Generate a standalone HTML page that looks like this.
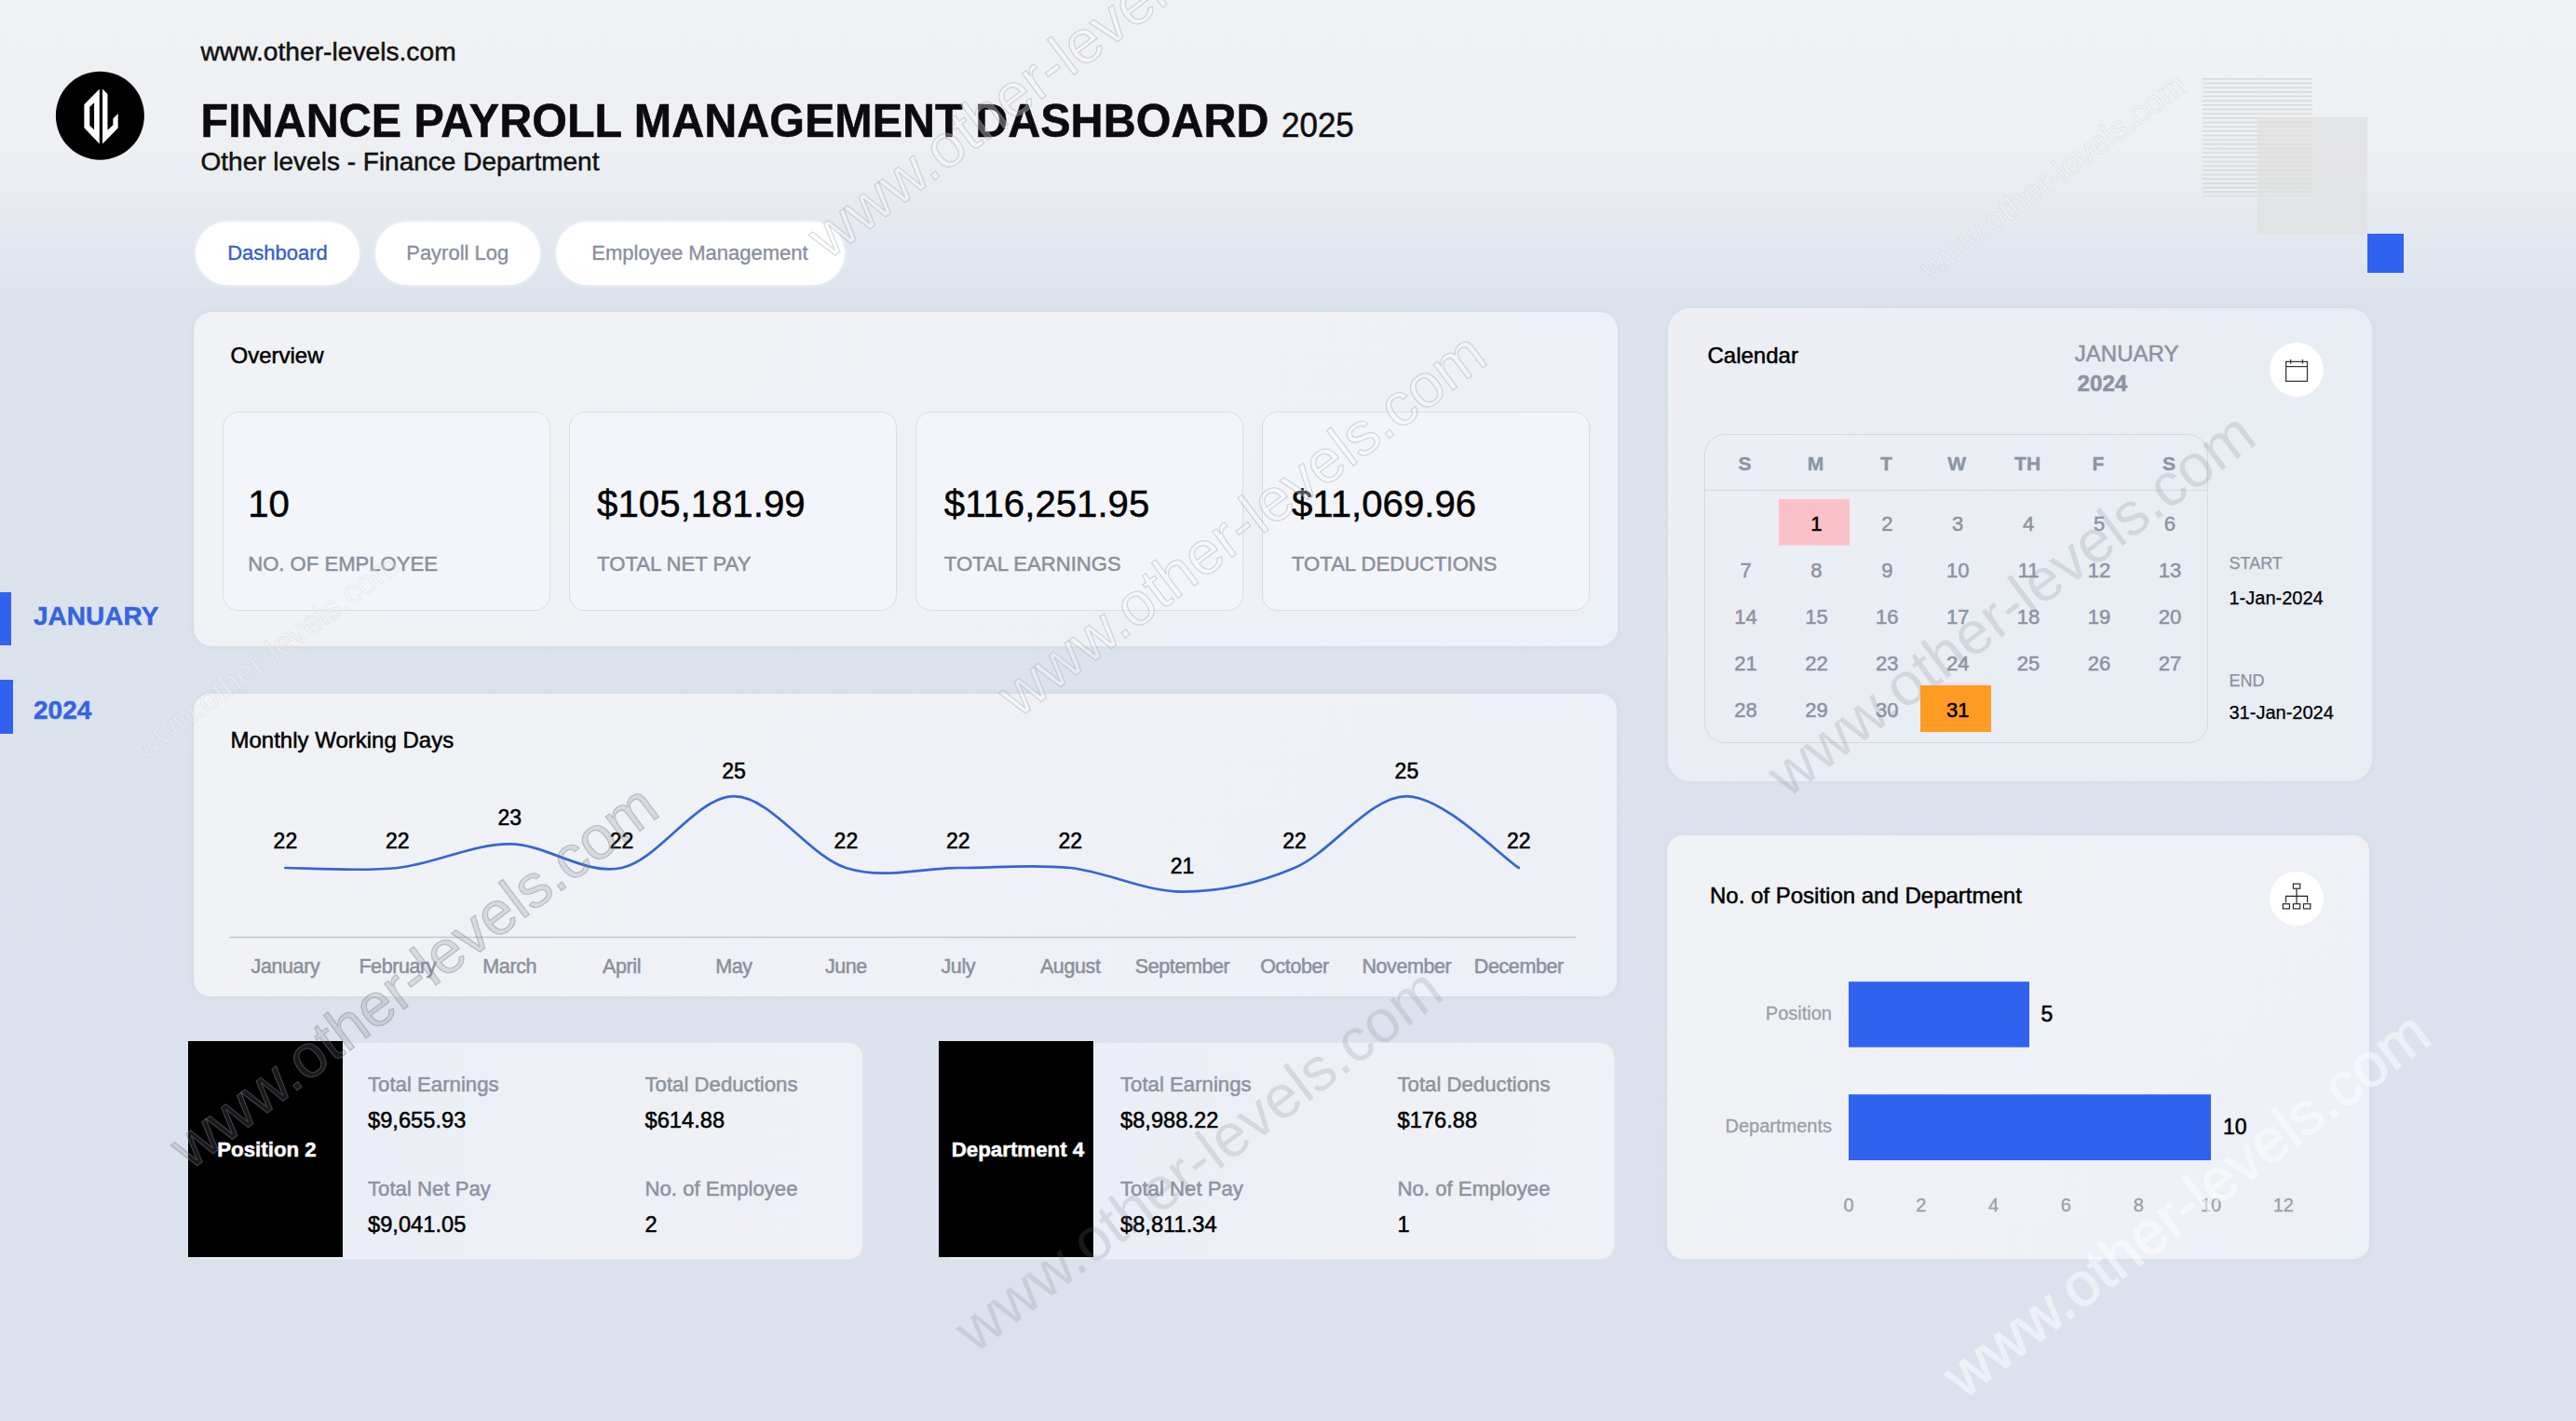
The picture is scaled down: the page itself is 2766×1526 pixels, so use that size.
<!DOCTYPE html>
<html lang="en"><head><meta charset="utf-8"><title>Finance Payroll Management Dashboard</title>
<style>
*{margin:0;padding:0;box-sizing:border-box}
html,body{width:2766px;height:1526px;overflow:hidden}
body{position:relative;-webkit-text-stroke:0.5px;font-family:"Liberation Sans",Arial,sans-serif;color:#000;
 background:linear-gradient(180deg,#f0f1f3 0px,#eef0f3 150px,#e5e9f0 240px,#dce3ed 322px,#dce2ed 1526px);}
.abs{position:absolute}
.t{position:absolute;white-space:nowrap;line-height:1}
.panel{position:absolute;background:linear-gradient(135deg,#f1f2f6 0%,#eff1f6 55%,#ecf0f7 100%);box-shadow:0 0 6px rgba(160,170,190,.18)}
.kpi{position:absolute;top:442px;width:352px;height:214px;border-radius:17px;background:#f4f5fb;border:1.3px solid #d9dce4}
.kpi .v{position:absolute;left:27px;top:78.7px;font-size:40.2px;line-height:1;white-space:nowrap}
.kpi .l{position:absolute;left:27px;top:151.9px;font-size:22.1px;line-height:1;color:#8b909d;white-space:nowrap}
.pill{position:absolute;top:238px;height:68px;border-radius:34px;background:#fff;font-size:22px;line-height:68px;text-align:center;color:#8a8f9c;-webkit-text-stroke:0.35px;box-shadow:0 0 5px rgba(255,255,255,.6)}
.g{color:#8d93a0}
svg text{font-family:"Liberation Sans",Arial,sans-serif}
.dl{font-size:23px;text-anchor:middle;fill:#000;stroke:#000;stroke-width:.55}
.ml{font-size:21.5px;text-anchor:middle;fill:#8b909d;letter-spacing:-0.4px;stroke:#8b909d;stroke-width:.5}
.wd{font-size:21px;font-weight:bold;text-anchor:middle;fill:#8d95a3;stroke:#8d95a3;stroke-width:.4}
.cd{font-size:22px;text-anchor:middle;fill:#8d93a0;stroke:#8d93a0;stroke-width:.5}
.cd.hi{fill:#000;stroke:#000}
.wm{font-size:65.3px}
.wa{fill:rgba(255,255,255,.3);stroke:rgba(160,165,175,.42);stroke-width:1.2}
.wb{fill:rgba(120,125,135,.2);stroke:rgba(125,130,140,.45);stroke-width:1.1}
.wc{fill:rgba(120,125,135,.2)}
.wx{fill:#fff;stroke:#fff;stroke-width:1.2;opacity:.5}
.ws{font-size:35.5px;fill:rgba(255,255,255,.28);stroke:rgba(195,200,210,.32);stroke-width:1}
.card{position:absolute;top:1118.5px;height:234px;border-radius:0 16px 16px 0;background:linear-gradient(90deg,#e9edf6 0%,#eef0f6 60%,#f0f1f6 100%);border:1.3px solid #e3e6ee}
.blk{position:absolute;top:1118px;width:166px;height:232px;background:#000;color:#fff;font-weight:bold;font-size:22.3px;text-align:center;line-height:1;white-space:nowrap}
.blk span{position:absolute;left:4px;right:0;top:106.1px}
.cl{position:absolute;font-size:22.2px;line-height:1;color:#8d93a0;white-space:nowrap}
.cv{position:absolute;font-size:23.7px;line-height:1;color:#000;white-space:nowrap}

.s2{-webkit-text-stroke:0.25px}
.kpi .v{-webkit-text-stroke:0.45px}

</style></head><body>
<!-- header -->
<svg class="abs" style="left:55px;top:72px" width="105" height="105" viewBox="55 72 105 105">
<circle cx="107.4" cy="124.2" r="47.5" fill="#000"/>
<path fill="#fff" fill-rule="evenodd" d="M106.8,95.4 L106.8,154.4 L90.4,137.2 L90.4,112.3 Z M101.1,110.2 L96.3,114.8 L96.3,134.7 L101.1,139.3 Z"/>
<path fill="#fff" d="M110.1,95.6 L115.5,100.9 L115.5,139.8 L121.4,134.3 L121.4,127.5 L126.7,122 L126.7,137.5 L110.1,154.4 Z"/>
</svg>
<div class="t" style="left:215.5px;top:40.9px;font-size:28.2px;color:#111">www.other-levels.com</div>
<div class="t" style="left:215.5px;top:106.2px;font-size:48.5px;font-weight:bold;color:#0c0c0e;transform:scaleY(1.03);transform-origin:0 84.65%">FINANCE PAYROLL MANAGEMENT DASHBOARD <span style="font-size:35px;font-weight:normal;margin-left:0px">2025</span></div>
<div class="t" style="left:215.5px;top:160.3px;font-size:28px;color:#111">Other levels - Finance Department</div>

<!-- deco top right -->
<svg class="abs" style="left:2360px;top:80px" width="230" height="220" viewBox="2360 80 230 220">
<defs><pattern id="ln" x="2365" y="84" width="118" height="4.67" patternUnits="userSpaceOnUse"><rect x="0" y="0" width="118" height="1.5" fill="#d6d7d8"/></pattern></defs>
<rect x="2365" y="84" width="118" height="127" fill="url(#ln)"/>
<rect x="2424" y="126" width="118" height="126" fill="#e0e0e0" fill-opacity=".72"/>
<rect x="2542" y="251" width="39" height="42" fill="#3062f0"/>
</svg>

<!-- tabs -->
<div class="pill" style="left:210px;width:176px;color:#3560c8">Dashboard</div>
<div class="pill" style="left:403px;width:176.5px">Payroll Log</div>
<div class="pill" style="left:596.5px;width:310px">Employee Management</div>

<!-- sidebar -->
<div class="abs" style="left:0;top:636px;width:12px;height:57px;background:#3062f0"></div>
<div class="abs" style="left:0;top:730px;width:14px;height:58px;background:#3062f0"></div>
<div class="t" style="left:36px;top:648.2px;font-size:28px;font-weight:bold;color:#3564e0">JANUARY</div>
<div class="t" style="left:36px;top:748.5px;font-size:28px;font-weight:bold;color:#3564e0">2024</div>

<!-- overview -->
<div class="panel" style="left:208px;top:335px;width:1529px;height:358.5px;border-radius:20px"></div>
<div class="t" style="left:247.5px;top:370.2px;font-size:24px">Overview</div>
<div class="kpi" style="left:238.5px"><div class="v" style="left:26.7px">10</div><div class="l" style="left:26.7px">NO. OF EMPLOYEE</div></div>
<div class="kpi" style="left:610.5px"><div class="v" style="left:29.6px">$105,181.99</div><div class="l" style="left:29.6px">TOTAL NET PAY</div></div>
<div class="kpi" style="left:982.5px"><div class="v" style="left:30.3px">$116,251.95</div><div class="l" style="left:30.3px">TOTAL EARNINGS</div></div>
<div class="kpi" style="left:1354.5px"><div class="v" style="left:31.5px">$11,069.96</div><div class="l" style="left:31.5px">TOTAL DEDUCTIONS</div></div>

<!-- monthly -->
<div class="panel" style="left:208px;top:745px;width:1528px;height:324.5px;border-radius:18px"></div>
<div class="t" style="left:247.5px;top:783.3px;font-size:24px">Monthly Working Days</div>

<!-- calendar panel -->
<div class="panel" style="left:1791px;top:331px;width:756px;height:507.5px;border-radius:24px;background:linear-gradient(135deg,#edeff5 0%,#e9edf4 60%,#e8ecf3 100%)"></div>
<div class="t" style="left:1833.5px;top:369.5px;font-size:24px">Calendar</div>
<div class="t g" style="left:2227.8px;top:368.1px;font-size:24px">JANUARY</div>
<div class="t g" style="left:2230.5px;top:399.5px;font-size:24.2px;font-weight:bold">2024</div>
<div class="abs" style="left:2437.4px;top:367.5px;width:58px;height:58px;border-radius:50%;background:#fff"></div>
<svg class="abs" style="left:2445px;top:380px" width="42" height="36" viewBox="2445 380 42 36" fill="none" stroke="#333" stroke-width="1.25">
<rect x="2454.6" y="388.4" width="22.9" height="21"/><line x1="2454.6" y1="393.6" x2="2477.5" y2="393.6"/>
<line x1="2459.6" y1="386" x2="2459.6" y2="390.6"/><line x1="2472.4" y1="386" x2="2472.4" y2="390.6"/>
</svg>
<div class="abs" style="left:1829.7px;top:466.3px;width:541.8px;height:332.2px;border-radius:22px;border:1.3px solid #d3d7df"></div>
<div class="abs" style="left:1831px;top:526px;width:539.5px;height:1.3px;background:#d3d7df"></div>
<div class="t g s2" style="left:2393.5px;top:595.8px;font-size:18px">START</div>
<div class="t s2" style="left:2393.5px;top:631.6px;font-size:20px">1-Jan-2024</div>
<div class="t g s2" style="left:2393.5px;top:722.2px;font-size:18px">END</div>
<div class="t s2" style="left:2393.5px;top:754.9px;font-size:20px">31-Jan-2024</div>
<svg class="abs" style="left:0;top:0" width="2766" height="1526" viewBox="0 0 2766 1526">
<line x1="246" y1="1006.5" x2="1692" y2="1006.5" stroke="#c3c7d0" stroke-width="1.3"/>
<path d="M306.4,932.0 C326.5,932.0 386.7,936.3 426.8,932.0 C466.9,927.7 507.1,906.4 547.2,906.4 C587.3,906.4 627.5,940.5 667.6,932.0 C707.7,923.5 747.9,855.2 788.0,855.2 C828.1,855.2 868.3,919.2 908.4,932.0 C948.5,944.8 988.7,932.0 1028.8,932.0 C1068.9,932.0 1109.1,927.7 1149.2,932.0 C1189.3,936.3 1229.5,957.6 1269.6,957.6 C1309.7,957.6 1349.9,949.1 1390.0,932.0 C1430.1,914.9 1470.3,855.2 1510.4,855.2 C1550.5,855.2 1610.7,919.2 1630.8,932.0" fill="none" stroke="#3564d8" stroke-width="2.7" stroke-linecap="round" stroke-linejoin="round"/>
<text x="306.4" y="911.0" class="dl">22</text>
<text x="306.4" y="1044.5" class="ml">January</text>
<text x="426.8" y="911.0" class="dl">22</text>
<text x="426.8" y="1044.5" class="ml">February</text>
<text x="547.2" y="886.4" class="dl">23</text>
<text x="547.2" y="1044.5" class="ml">March</text>
<text x="667.6" y="911.0" class="dl">22</text>
<text x="667.6" y="1044.5" class="ml">April</text>
<text x="788.0" y="835.9" class="dl">25</text>
<text x="788.0" y="1044.5" class="ml">May</text>
<text x="908.4" y="911.0" class="dl">22</text>
<text x="908.4" y="1044.5" class="ml">June</text>
<text x="1028.8" y="911.0" class="dl">22</text>
<text x="1028.8" y="1044.5" class="ml">July</text>
<text x="1149.2" y="911.0" class="dl">22</text>
<text x="1149.2" y="1044.5" class="ml">August</text>
<text x="1269.6" y="937.6" class="dl">21</text>
<text x="1269.6" y="1044.5" class="ml">September</text>
<text x="1390.0" y="911.0" class="dl">22</text>
<text x="1390.0" y="1044.5" class="ml">October</text>
<text x="1510.4" y="835.9" class="dl">25</text>
<text x="1510.4" y="1044.5" class="ml">November</text>
<text x="1630.8" y="911.0" class="dl">22</text>
<text x="1630.8" y="1044.5" class="ml">December</text>
</svg>
<svg class="abs" style="left:0;top:0" width="2766" height="1526" viewBox="0 0 2766 1526">
<text class="wm wc" transform="translate(1919.5,858) rotate(-37.1)">www.other-levels.com</text>
<rect x="1910" y="536" width="76" height="49.5" fill="#fbc1c8"/>
<rect x="2084" y="733.6" width="54" height="2.4" fill="#f9dde0"/>
<rect x="2062" y="736" width="76" height="50" fill="#ff9a22"/>
<text x="1873.5" y="505" class="wd">S</text>
<text x="1949.4" y="505" class="wd">M</text>
<text x="2025.3" y="505" class="wd">T</text>
<text x="2101.2" y="505" class="wd">W</text>
<text x="2177.1" y="505" class="wd">TH</text>
<text x="2253.0" y="505" class="wd">F</text>
<text x="2328.9" y="505" class="wd">S</text>
<text x="1950.4" y="569.5" class="cd hi">1</text>
<text x="2026.3" y="569.5" class="cd">2</text>
<text x="2102.2" y="569.5" class="cd">3</text>
<text x="2178.1" y="569.5" class="cd">4</text>
<text x="2254.0" y="569.5" class="cd">5</text>
<text x="2329.9" y="569.5" class="cd">6</text>
<text x="1874.5" y="619.6" class="cd">7</text>
<text x="1950.4" y="619.6" class="cd">8</text>
<text x="2026.3" y="619.6" class="cd">9</text>
<text x="2102.2" y="619.6" class="cd">10</text>
<text x="2178.1" y="619.6" class="cd">11</text>
<text x="2254.0" y="619.6" class="cd">12</text>
<text x="2329.9" y="619.6" class="cd">13</text>
<text x="1874.5" y="669.8" class="cd">14</text>
<text x="1950.4" y="669.8" class="cd">15</text>
<text x="2026.3" y="669.8" class="cd">16</text>
<text x="2102.2" y="669.8" class="cd">17</text>
<text x="2178.1" y="669.8" class="cd">18</text>
<text x="2254.0" y="669.8" class="cd">19</text>
<text x="2329.9" y="669.8" class="cd">20</text>
<text x="1874.5" y="719.9" class="cd">21</text>
<text x="1950.4" y="719.9" class="cd">22</text>
<text x="2026.3" y="719.9" class="cd">23</text>
<text x="2102.2" y="719.9" class="cd">24</text>
<text x="2178.1" y="719.9" class="cd">25</text>
<text x="2254.0" y="719.9" class="cd">26</text>
<text x="2329.9" y="719.9" class="cd">27</text>
<text x="1874.5" y="770" class="cd">28</text>
<text x="1950.4" y="770" class="cd">29</text>
<text x="2026.3" y="770" class="cd">30</text>
<text x="2102.2" y="770" class="cd hi">31</text>
</svg>
<!-- bar chart panel -->
<div class="panel" style="left:1789.5px;top:897px;width:754px;height:454.5px;border-radius:17px"></div>
<div class="t" style="left:1836px;top:950.1px;font-size:24px">No. of Position and Department</div>
<div class="abs" style="left:2437px;top:935.7px;width:58px;height:58px;border-radius:50%;background:#fff"></div>
<svg class="abs" style="left:2445px;top:944px" width="42" height="40" viewBox="2445 944 42 40" fill="none" stroke="#222" stroke-width="1.15">
<rect x="2462.4" y="949.1" width="7.3" height="5.1"/>
<path d="M2466,954.2 V970.7 M2454.5,969.3 V962.3 H2477.6 V969.3"/>
<rect x="2451.3" y="970.7" width="7.1" height="5.2"/><rect x="2462.4" y="970.7" width="7.3" height="5.2"/><rect x="2473.5" y="970.7" width="7.3" height="5.2"/>
</svg>
<svg class="abs" style="left:0;top:0" width="2766" height="1526" viewBox="0 0 2766 1526">
<rect x="1985" y="1054.2" width="194" height="70.4" fill="#3062f0"/>
<rect x="1985" y="1175.3" width="389" height="70.7" fill="#3062f0"/>
<text x="1967" y="1094.5" text-anchor="end" font-size="20" fill="#9a9fa9" stroke="#9a9fa9" stroke-width=".3">Position</text>
<text x="1967" y="1215.8" text-anchor="end" font-size="20" fill="#9a9fa9" stroke="#9a9fa9" stroke-width=".3">Departments</text>
<text x="2191.5" y="1096.5" font-size="23" fill="#000" stroke="#000" stroke-width=".55">5</text>
<text x="2387" y="1217.5" font-size="23" fill="#000" stroke="#000" stroke-width=".55">10</text>
<g font-size="20" fill="#9a9fa9" stroke="#9a9fa9" stroke-width=".3" text-anchor="middle">
<text x="1985" y="1300.8">0</text><text x="2062.8" y="1300.8">2</text><text x="2140.6" y="1300.8">4</text><text x="2218.4" y="1300.8">6</text><text x="2296.2" y="1300.8">8</text><text x="2374" y="1300.8">10</text><text x="2451.8" y="1300.8">12</text>
</g>
</svg>

<!-- bottom cards -->
<div class="card" style="left:215px;width:712px"></div>
<div class="blk" style="left:201.5px"><span>Position 2</span></div>
<div class="cl" style="left:395px;top:1154.2px">Total Earnings</div>
<div class="cv" style="left:395px;top:1191.7px">$9,655.93</div>
<div class="cl" style="left:692.5px;top:1154.2px">Total Deductions</div>
<div class="cv" style="left:692.5px;top:1191.7px">$614.88</div>
<div class="cl" style="left:395px;top:1266.2px">Total Net Pay</div>
<div class="cv" style="left:395px;top:1303.7px">$9,041.05</div>
<div class="cl" style="left:692.5px;top:1266.2px">No. of Employee</div>
<div class="cv" style="left:692.5px;top:1303.7px">2</div>

<div class="card" style="left:1020px;width:714px"></div>
<div class="blk" style="left:1008px"><span>Department 4</span></div>
<div class="cl" style="left:1203px;top:1154.2px">Total Earnings</div>
<div class="cv" style="left:1203px;top:1191.7px">$8,988.22</div>
<div class="cl" style="left:1500.5px;top:1154.2px">Total Deductions</div>
<div class="cv" style="left:1500.5px;top:1191.7px">$176.88</div>
<div class="cl" style="left:1203px;top:1266.2px">Total Net Pay</div>
<div class="cv" style="left:1203px;top:1303.7px">$8,811.34</div>
<div class="cl" style="left:1500.5px;top:1266.2px">No. of Employee</div>
<div class="cv" style="left:1500.5px;top:1303.7px">1</div>

<!-- watermarks -->
<svg class="abs" style="left:0;top:0;pointer-events:none" width="2766" height="1526" viewBox="0 0 2766 1526">
<defs><filter id="thin" x="-5%" y="-5%" width="110%" height="110%"><feMorphology operator="erode" radius="0.7"/></filter></defs>
<text class="wm wa" transform="translate(889,280) rotate(-37.1)">www.other-levels.com</text>
<text class="wm wa" transform="translate(1093.5,772) rotate(-37.1)">www.other-levels.com</text>
<text class="ws" transform="translate(153.7,817) rotate(-36.5)">www.other-levels.com</text>
<text class="wm wb" transform="translate(204.3,1257.6) rotate(-37.1)">www.other-levels.com</text>
<text class="wm wc" transform="translate(1046.7,1454.5) rotate(-37.1)">www.other-levels.com</text>
<text class="ws" transform="translate(2072.7,301.5) rotate(-36.5)">www.other-levels.com</text>
<text class="wm wx" transform="translate(2108.5,1503.3) rotate(-37.3)">www.other-levels.com</text>
</svg>
</body></html>
